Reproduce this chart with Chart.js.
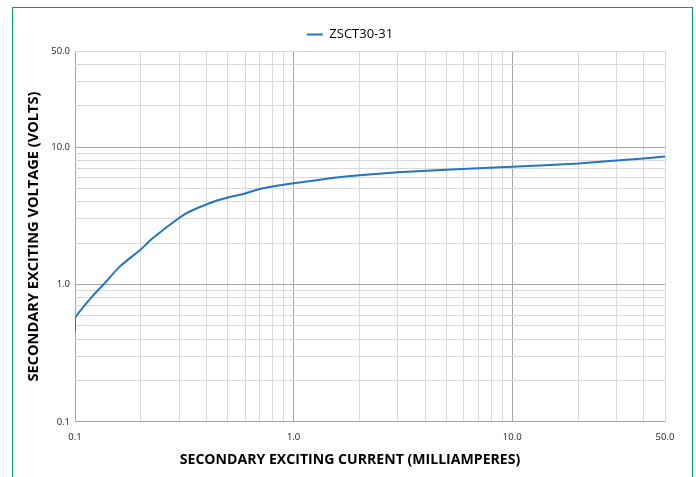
<!DOCTYPE html>
<html>
<head>
<meta charset="utf-8">
<script src="https://cdn.jsdelivr.net/npm/chart.js@4/dist/chart.umd.min.js"></script>
<style>
  html, body { margin: 0; padding: 0; background: #fff; }
  #wrap { position: relative; width: 696px; height: 477px; }
  #frame { position: absolute; left: 12px; top: 6.5px; width: 681px; height: 480px; border: 1.5px solid #00a060; box-sizing: border-box; }
  canvas { position: absolute; left: 0; top: 0; }
</style>
</head>
<body>
<div id="wrap">
  <div id="frame"></div>
  <canvas id="c" width="696" height="477"></canvas>
</div>
<script>
// ---- data ----
const seriesName = 'ZSCT30-31';
const currentMA = [0.1, 0.1, 0.12, 0.135, 0.16, 0.2, 0.225, 0.3, 0.335, 0.43, 0.5, 0.6, 0.7, 0.85, 1.0, 1.5, 2.0, 3.0, 5.0, 7.0, 10, 20, 30, 40, 50];
const voltageV  = [0.45, 0.57, 0.82, 1.0, 1.35, 1.8, 2.15, 3.06, 3.4, 4.0, 4.3, 4.6, 4.95, 5.25, 5.45, 5.95, 6.24, 6.56, 6.83, 7.0, 7.18, 7.59, 7.98, 8.25, 8.53];
const xGridValues = [0.1,0.2,0.3,0.4,0.5,0.6,0.7,0.8,0.9,1,2,3,4,5,6,7,8,9,10,20,30,40,50];
const yGridValues = [0.1,0.2,0.3,0.4,0.5,0.6,0.7,0.8,0.9,1,2,3,4,5,6,7,8,9,10,20,30,40,50];
const xTickLabels = [0.1, 1, 10, 50];
const yTickLabels = [0.1, 1, 10, 50];
const majorValues = [0.1, 1, 10];
const xTitle = 'SECONDARY EXCITING CURRENT (MILLIAMPERES)';
const yTitle = 'SECONDARY EXCITING VOLTAGE (VOLTS)';

const has = (arr, v) => arr.some(a => Math.abs(a - v) < 1e-9);
const gridColor = ctx => (ctx.tick && has(majorValues, ctx.tick.value)) ? '#a6a6a6' : '#d9d9d9';
const FONT = "'Open Sans', 'Liberation Sans', sans-serif";

new Chart(document.getElementById('c'), {
  type: 'line',
  data: {
    datasets: [{
      label: seriesName,
      data: currentMA.map((x, i) => ({ x: x, y: voltageV[i] })),
      borderColor: '#2474c0',
      backgroundColor: '#2474c0',
      borderWidth: 2,
      pointRadius: 0,
      tension: 0.15,
      fill: false
    }]
  },
  options: {
    responsive: false,
    animation: false,
    layout: { padding: { top: 17, right: 0, bottom: 0, left: 4 } },
    plugins: {
      legend: {
        position: 'top',
        labels: {
          usePointStyle: true,
          pointStyle: 'line',
          pointStyleWidth: 16,
          padding: 11,
          color: '#000',
          font: { family: FONT, size: 13 }
        }
      },
      title: {
        display: true,
        position: 'bottom',
        text: xTitle,
        color: '#000',
        font: { family: FONT, size: 14.1, weight: 'bold' },
        padding: { top: 0, bottom: 8.3 }
      },
      tooltip: { enabled: false }
    },
    scales: {
      x: {
        type: 'logarithmic',
        min: 0.1,
        max: 50,
        afterBuildTicks: s => { s.ticks = xGridValues.map(v => ({ value: v })); },
        afterFit: s => { s.height = 29.8; },
        ticks: {
          autoSkip: false,
          maxRotation: 0,
          padding: 10,
          color: '#222',
          font: { family: FONT, size: 9.5 },
          callback: v => has(xTickLabels, v) ? Number(v).toFixed(1) : ''
        },
        grid: { color: gridColor, lineWidth: 1, drawTicks: false },
        border: { display: false }
      },
      y: {
        type: 'logarithmic',
        position: 'left',
        min: 0.1,
        max: 50,
        afterBuildTicks: s => { s.ticks = yGridValues.map(v => ({ value: v })); },
        afterFit: s => { s.width = 71; },
        ticks: {
          autoSkip: false,
          padding: 5,
          color: '#222',
          font: { family: FONT, size: 9.5 },
          callback: v => has(yTickLabels, v) ? Number(v).toFixed(1) : ''
        },
        grid: { color: gridColor, lineWidth: 1, drawTicks: false },
        border: { display: false },
        title: {
          display: true,
          text: yTitle,
          color: '#000',
          font: { family: FONT, size: 14.6, weight: 'bold' },
          padding: { top: 21, bottom: 0 }
        }
      },
      ySpacer: {
        type: 'linear',
        position: 'right',
        display: true,
        afterFit: s => { s.width = 31; },
        grid: { display: false, drawTicks: false },
        border: { display: false },
        ticks: { display: false }
      }
    }
  }
});
</script>
</body>
</html>
